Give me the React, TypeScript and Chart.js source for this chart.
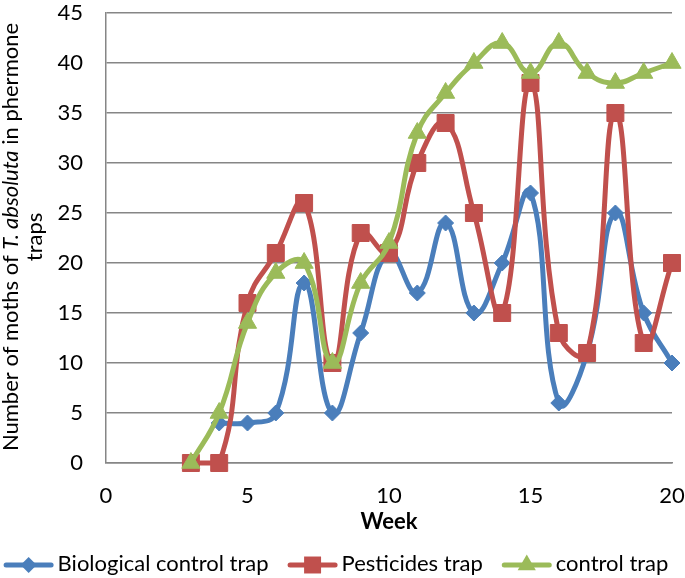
import React, { useEffect, useRef } from "react";
import { Chart, registerables } from "chart.js";

Chart.register(...registerables);

// ---- data ----
const weeks = [3, 4, 5, 6, 7, 8, 9, 10, 11, 12, 13, 14, 15, 16, 17, 18, 19, 20];
const biological = [null, 4, 4, 5, 18, 5, 13, 21, 17, 24, 15, 20, 27, 6, 11, 25, 15, 10];
const pesticides = [0, 0, 16, 21, 26, 10, 23, 21, 30, 34, 25, 15, 38, 13, 11, 35, 12, 20];
const control = [0, 5, 14, 19, 20, 10, 18, 22, 33, 37, 40, 42, 39, 42, 39, 38, 39, 40];
const seriesNames = ["Biological control trap", "Pesticides trap", "control trap"];
const xAxisTitle = "Week";
const yTitleLine1 = ["Number of moths of ", "T. absoluta", " in phermone"];
const yTitleLine2 = "traps";
const xRange = [0, 20, 5];
const yRange = [0, 45, 5];

const COLORS = ["#4A7EBB", "#C0504D", "#9BBB59"];
const KINDS = ["rectRot", "rect", "triangle"];
const RADII = [8, 12, 10.5];
const FONT = "Lato";
const FS = 22;

function toPoints(vals: (number | null)[]) {
  const out: { x: number; y: number }[] = [];
  vals.forEach((v, i) => {
    if (v !== null) out.push({ x: weeks[i], y: v });
  });
  return out;
}

function drawMarker(ctx: CanvasRenderingContext2D, kind: string, x: number, y: number, r: number) {
  ctx.beginPath();
  if (kind === "rectRot") {
    ctx.moveTo(x, y - r);
    ctx.lineTo(x + r, y);
    ctx.lineTo(x, y + r);
    ctx.lineTo(x - r, y);
  } else if (kind === "rect") {
    const s = r * Math.SQRT1_2;
    ctx.rect(x - s, y - s, 2 * s, 2 * s);
  } else {
    const h = r * 1.5;
    const w = r * Math.sqrt(3);
    ctx.moveTo(x, y - r);
    ctx.lineTo(x + w / 2, y - r + h);
    ctx.lineTo(x - w / 2, y - r + h);
  }
  ctx.closePath();
  ctx.fill();
}

const legendPlugin = {
  id: "lineMarkerLegend",
  afterDraw(chart: any) {
    const ctx: CanvasRenderingContext2D = chart.ctx;
    const sets = chart.data.datasets;
    ctx.save();
    ctx.font = `${FS}px ${FONT}`;
    const iconW = 50;
    const gapText = 4;
    const gapItem = 19;
    const widths = sets.map((d: any) => ctx.measureText(d.label).width);
    const total =
      widths.reduce((a: number, b: number) => a + b, 0) + sets.length * (iconW + gapText) + (sets.length - 1) * gapItem;
    let x = 336 - total / 2;
    const cy = 565;
    sets.forEach((d: any, i: number) => {
      const col = d.borderColor;
      ctx.strokeStyle = col;
      ctx.fillStyle = col;
      ctx.lineWidth = 5;
      ctx.lineCap = "round";
      ctx.beginPath();
      ctx.moveTo(x + 2.5, cy);
      ctx.lineTo(x + iconW - 2.5, cy);
      ctx.stroke();
      drawMarker(ctx, d.pointStyle, x + iconW / 2, cy, d.pointRadius);
      ctx.fillStyle = "#000";
      ctx.textAlign = "left";
      ctx.textBaseline = "alphabetic";
      ctx.fillText(d.label, x + iconW + gapText, 571);
      x += iconW + gapText + widths[i] + gapItem;
    });
    ctx.restore();
  },
};

const yTitlePlugin = {
  id: "yTitleRich",
  afterDraw(chart: any) {
    const ctx: CanvasRenderingContext2D = chart.ctx;
    const area = chart.chartArea;
    const cy = (area.top + area.bottom) / 2 - 1;
    ctx.save();
    ctx.fillStyle = "#000";
    ctx.textBaseline = "alphabetic";
    const fonts = [`${FS}px ${FONT}`, `italic ${FS}px ${FONT}`, `${FS}px ${FONT}`];
    let total = 0;
    const widths = yTitleLine1.map((t, i) => {
      ctx.font = fonts[i];
      const w = ctx.measureText(t).width;
      total += w;
      return w;
    });
    ctx.translate(18, cy);
    ctx.rotate(-Math.PI / 2);
    let pos = -total / 2;
    yTitleLine1.forEach((t, i) => {
      ctx.font = fonts[i];
      ctx.textAlign = "left";
      ctx.fillText(t, pos, 0);
      pos += widths[i];
    });
    ctx.restore();
    ctx.save();
    ctx.fillStyle = "#000";
    ctx.font = `${FS}px ${FONT}`;
    ctx.textAlign = "center";
    ctx.textBaseline = "alphabetic";
    ctx.translate(42, cy);
    ctx.rotate(-Math.PI / 2);
    ctx.fillText(yTitleLine2, 0, 0);
    ctx.restore();
  },
};

export default function App() {
  const ref = useRef<HTMLCanvasElement>(null);
  useEffect(() => {
    const dataSets = [biological, pesticides, control].map((vals, i) => ({
      label: seriesNames[i],
      data: toPoints(vals),
      order: 3 - i,
      borderColor: COLORS[i],
      backgroundColor: COLORS[i],
      borderWidth: 5,
      showLine: true,
      tension: 0.45,
      pointStyle: KINDS[i],
      pointRadius: RADII[i],
      pointBorderWidth: 1,
      pointBorderColor: COLORS[i],
      pointBackgroundColor: COLORS[i],
      clip: false as any,
    }));
    const chart = new Chart(ref.current!, {
      type: "scatter",
      data: { datasets: dataSets as any },
      plugins: [yTitlePlugin, legendPlugin],
      options: {
        animation: false,
        responsive: true,
        maintainAspectRatio: false,
        layout: { padding: { top: 8, right: 0, left: 0, bottom: 34 } },
        plugins: {
          tooltip: { enabled: false },
          legend: { display: false },
        },
        scales: {
          x: {
            type: "linear",
            min: xRange[0],
            max: xRange[1],
            ticks: {
              stepSize: xRange[2],
              padding: 20,
              color: "#000",
              font: { family: FONT, size: FS },
              maxRotation: 0,
            },
            grid: { display: false, drawTicks: false },
            border: { display: true, color: "#868686", width: 1.5 },
            title: {
              display: true,
              text: xAxisTitle,
              color: "#000",
              font: { family: FONT, size: FS, weight: "bold" },
              padding: { top: 0, bottom: 9 },
            },
            afterFit: (s: any) => {
              s.height = 81;
              s.paddingLeft = 0;
              s.paddingRight = 12;
            },
          },
          y: {
            type: "linear",
            min: yRange[0],
            max: yRange[1],
            ticks: {
              stepSize: yRange[2],
              padding: 23,
              color: "#000",
              font: { family: FONT, size: FS },
            },
            grid: { color: "#868686", lineWidth: 1.5, drawTicks: false },
            border: { display: true, color: "#868686", width: 1.5 },
            afterFit: (s: any) => {
              s.width = 106;
              s.paddingTop = 0;
              s.paddingBottom = 0;
            },
          },
        },
      } as any,
    });
    return () => chart.destroy();
  }, []);
  return (
    <div style={{ position: "fixed", left: 0, top: 0, width: 685, height: 578 }}>
      <canvas ref={ref} />
    </div>
  );
}
